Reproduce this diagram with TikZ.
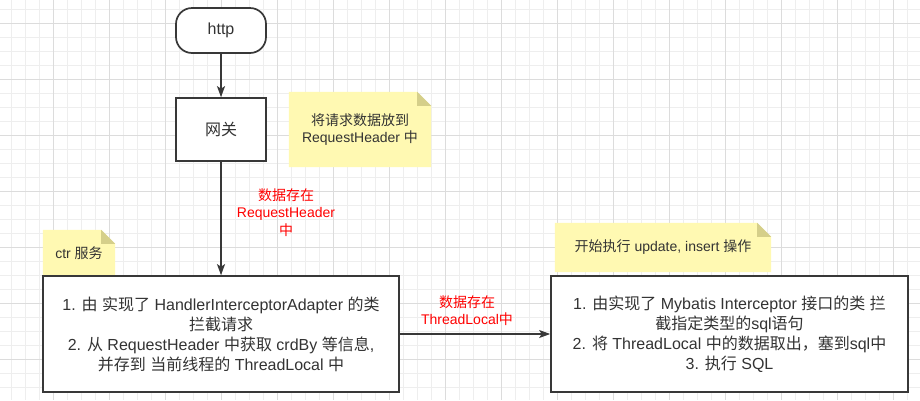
\documentclass[tikz,border=0pt]{standalone}
\usepackage{fontspec}
\setmainfont{Liberation Sans}
\newfontfamily\cjkfont{Noto Sans CJK SC}
\XeTeXinterchartokenstate=1
\newXeTeXintercharclass\cjkclass
\count255="4E00
\loop
  \XeTeXcharclass\count255=\cjkclass
  \advance\count255 by 1
\ifnum\count255<"A000 \repeat
\XeTeXcharclass"FF0C=\cjkclass
\XeTeXinterchartoks 0 \cjkclass={\cjkfont}
\XeTeXinterchartoks 4095 \cjkclass={\cjkfont}
\XeTeXinterchartoks \cjkclass 0={\rmfamily}
\XeTeXinterchartoks \cjkclass 4095={\rmfamily}
\usetikzlibrary{arrows.meta}
\definecolor{linegrey}{HTML}{383838}
\definecolor{textgrey}{HTML}{333333}
\definecolor{remarkred}{HTML}{FF0000}
\definecolor{notefill}{HTML}{FFF9B2}
\definecolor{notefold}{HTML}{D5CF8A}
\definecolor{gridminor}{HTML}{EEEEEE}
\definecolor{gridmajor}{HTML}{DCDCDC}
\pgfdeclarelayer{background}
\pgfsetlayers{background,main}
\tikzstyle{process}=[draw=linegrey, line width=1.7pt, fill=white, text=textgrey, align=center, inner sep=0pt, font=\fontsize{16}{20}\selectfont]
\tikzstyle{terminal}=[process, rounded corners=16pt]
\tikzstyle{memo}=[text=textgrey, align=center, inner sep=0pt, font=\fontsize{14}{17.5}\selectfont]
\tikzstyle{remark}=[text=remarkred, align=center, inner sep=0pt, font=\fontsize{14}{17.5}\selectfont]
\tikzstyle{flow}=[draw=linegrey, line width=1.7pt, -{Stealth[length=11pt, width=8pt, inset=2.5pt]}]

\begin{document}
\begin{tikzpicture}[x=1pt, y=-1pt]
      \useasboundingbox (0, 0) rectangle (920, 400);

      \node[terminal, minimum width=90, minimum height=45] (http_start) at (221, 30.5) {http};
      \node[process, minimum width=90, minimum height=63] (gateway) at (221, 129.5) {网关};
      \node[process, minimum width=356, minimum height=116] (ctr_box) at (221, 334)
        {1. 由 实现了 HandlerInterceptorAdapter 的类\\拦截请求\\2. 从 RequestHeader 中获取 crdBy 等信息,\\并存到 当前线程的 ThreadLocal 中};
      \node[process, minimum width=357, minimum height=116] (sql_box) at (729.5, 334)
        {1. 由实现了 Mybatis Interceptor 接口的类 拦\\截指定类型的sql语句\\2. 将 ThreadLocal 中的数据取出，塞到sql中\\3. 执行 SQL};

      \node[memo, minimum width=142, minimum height=75] (note_header) at (360, 129.5) {将请求数据放到\\RequestHeader 中};
      \node[memo, minimum width=72, minimum height=46] (note_ctr) at (79, 253) {ctr 服务};
      \node[memo, minimum width=216, minimum height=49] (note_sql) at (663, 247.5) {开始执行 update, insert 操作};

      \node[remark] (label_header) at (286, 212.5) {数据存在\\RequestHeader\\中};
      \node[remark] (label_local) at (467, 310.5) {数据存在\\ThreadLocal中};

      \draw[flow] (http_start) -- (gateway);
      \draw[flow] (gateway) -- (ctr_box);
      \draw[flow, line width=1.1pt] (ctr_box) -- (sql_box);

      \begin{pgfonlayer}{background}
        \foreach \i in {0,...,65}
          \draw[gridminor, line width=0.8pt] (11.67+14*\i, 0) -- ++(0, 400);
        \foreach \j in {0,...,28}
          \draw[gridminor, line width=0.8pt] (0, 9.33+14*\j) -- ++(920, 0);
        \foreach \i in {0,...,16}
          \draw[gridmajor, line width=0.8pt] (53.67+56*\i, 0) -- ++(0, 400);
        \foreach \j in {0,...,6}
          \draw[gridmajor, line width=0.8pt] (0, 23.33+56*\j) -- ++(920, 0);
        \foreach \n in {note_header, note_ctr, note_sql} {
          \fill[notefill] (\n.south west) -- (\n.north west) -- ([xshift=-14pt]\n.north east)
            -- ([yshift=-14pt]\n.north east) -- (\n.south east) -- cycle;
          \fill[notefold] ([xshift=-14pt]\n.north east) -- ([yshift=-14pt]\n.north east)
            -- ([xshift=-14pt, yshift=-14pt]\n.north east) -- cycle;
        }
      \end{pgfonlayer}
    \end{tikzpicture}
\end{document}
